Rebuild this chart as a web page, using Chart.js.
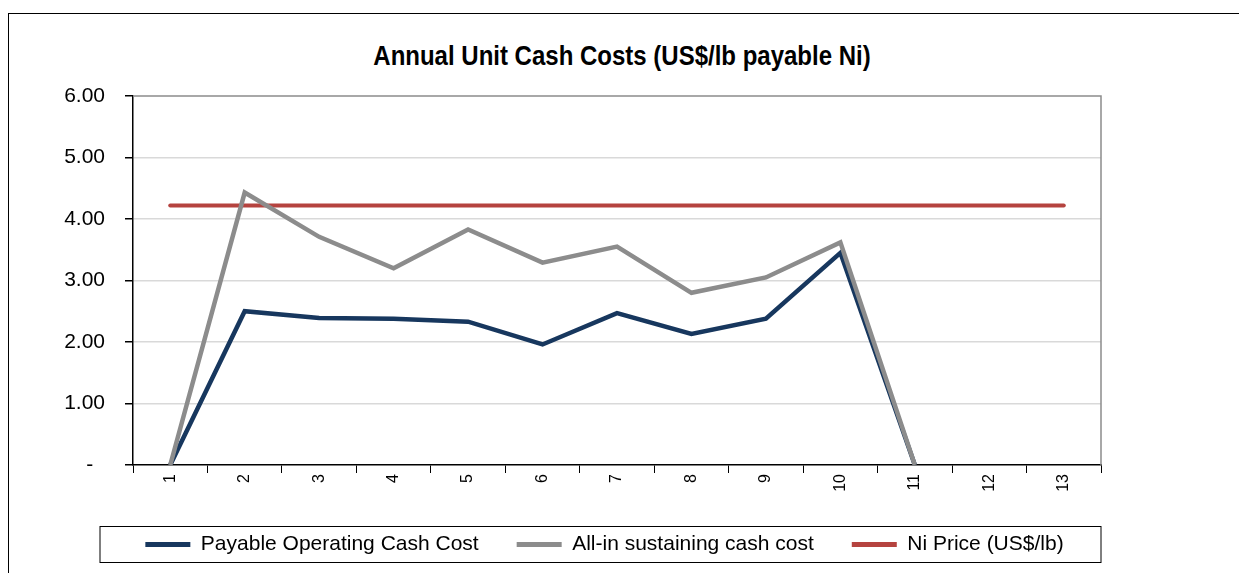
<!DOCTYPE html>
<html lang="en">
<head>
    <meta charset="UTF-8">
    <title>Annual Unit Cash Costs</title>
    <script src="https://cdn.jsdelivr.net/npm/chart.js"></script>
    <style>
        html, body {
            margin: 0;
            padding: 0;
            background: #fff;
            overflow: hidden;
        }
        #frame {
            position: absolute;
            left: 8px;
            top: 13px;
            width: 1300px;
            height: 700px;
            border: 1.5px solid #000;
        }
        #title {
            position: absolute;
            left: 0;
            width: 1244px;
            top: 42px;
            text-align: center;
            font-family: "Liberation Sans", Arial, sans-serif;
            font-weight: bold;
            font-size: 24px;
            color: #000;
            transform: scaleY(1.12);
        }
        #wrap {
            position: absolute;
            left: 0;
            top: 0;
            width: 1239px;
            height: 573px;
        }
    </style>
</head>
<body>
    <div id="frame"></div>
    <div id="title">Annual Unit Cash Costs (US$/lb payable Ni)</div>
    <div id="wrap"><canvas id="costChart"></canvas></div>

    <script>
        // Werte
        const years = ['1', '2', '3', '4', '5', '6', '7', '8', '9', '10', '11', '12', '13'];
        const operatingCost = [0, 2.50, 2.39, 2.38, 2.33, 1.96, 2.47, 2.13, 2.38, 3.45, 0, null, null];
        const aiscCost = [0, 4.43, 3.71, 3.20, 3.83, 3.29, 3.55, 2.80, 3.05, 3.62, 0, null, null];
        const niPrice = [4.22, 4.22, 4.22, 4.22, 4.22, 4.22, 4.22, 4.22, 4.22, 4.22, 4.22, 4.22, 4.22];
        const yTicks = [0, 1, 2, 3, 4, 5, 6];

        const font = "'Liberation Sans', Arial, sans-serif";

        // Rahmen oben/rechts im Plotbereich, Kasten um die Legende
        const framePlugin = {
            id: 'framePlugin',
            afterLayout(chart) {
                // Legende etwas nach rechts schieben (wie im Original)
                const lg = chart.legend;
                lg.left += 54;
                lg.right += 54;
            },
            beforeDatasetsDraw(chart) {
                const { ctx, chartArea: a } = chart;
                ctx.save();
                ctx.strokeStyle = '#8c8c8c';
                ctx.lineWidth = 1.5;
                ctx.beginPath();
                ctx.moveTo(a.left, a.top);
                ctx.lineTo(a.right, a.top);
                ctx.lineTo(a.right, a.bottom);
                ctx.stroke();
                ctx.restore();
            },
            afterDraw(chart) {
                const { ctx, chartArea: a, legend } = chart;
                const hb = legend.legendHitBoxes[0];
                if (!hb) return;
                const mid = hb.top + hb.height / 2;
                ctx.save();
                ctx.strokeStyle = '#000';
                ctx.lineWidth = 1;
                ctx.strokeRect(a.left - 33, mid - 18, a.right - a.left + 33, 36);
                ctx.restore();
            }
        };

        const ctx = document.getElementById('costChart').getContext('2d');
        new Chart(ctx, {
            type: 'line',
            data: {
                labels: years,
                datasets: [{
                    label: 'Payable Operating Cash Cost',
                    data: operatingCost,
                    borderColor: '#17375E',
                    backgroundColor: '#17375E',
                    borderWidth: 4.5,
                    order: 2
                }, {
                    label: 'All-in sustaining cash cost',
                    data: aiscCost,
                    borderColor: '#8C8C8C',
                    backgroundColor: '#8C8C8C',
                    borderWidth: 4.5,
                    order: 1
                }, {
                    label: 'Ni Price (US$/lb)',
                    data: niPrice,
                    borderColor: '#B5433F',
                    backgroundColor: '#B5433F',
                    borderWidth: 4,
                    borderCapStyle: 'round',
                    order: 3
                }]
            },
            options: {
                responsive: true,
                maintainAspectRatio: false,
                animation: false,
                elements: {
                    point: { radius: 0, hoverRadius: 0 },
                    line: { tension: 0 }
                },
                layout: {
                    padding: { left: 0, right: 138, top: 96, bottom: 8 }
                },
                plugins: {
                    title: { display: false },
                    tooltip: { enabled: false },
                    legend: {
                        position: 'bottom',
                        labels: {
                            font: { family: font, size: 21 },
                            color: '#000',
                            boxWidth: 45,
                            boxHeight: 5,
                            padding: 38,
                            sort: (a, b) => a.datasetIndex - b.datasetIndex,
                            generateLabels(chart) {
                                const items = Chart.defaults.plugins.legend.labels.generateLabels(chart);
                                items.forEach(it => { it.lineWidth = 0; it.fillStyle = it.strokeStyle; });
                                return items;
                            }
                        }
                    }
                },
                scales: {
                    x: {
                        offset: true,
                        grid: {
                            offset: true,
                            drawOnChartArea: false,
                            color: '#000',
                            tickLength: 8
                        },
                        border: { color: '#000', width: 1.5 },
                        ticks: {
                            color: '#000',
                            font: { family: font, size: 16 },
                            minRotation: 90,
                            maxRotation: 90,
                            padding: 1
                        },
                        afterFit(scale) { scale.height = 31; }
                    },
                    y: {
                        min: 0,
                        max: 6,
                        afterBuildTicks(scale) { scale.ticks = yTicks.map(v => ({ value: v })); },
                        grid: {
                            color: (c) => (c.tick && (c.tick.value === 0 || c.tick.value === 6)) ? 'rgba(0,0,0,0)' : '#d9d9d9',
                            lineWidth: 1.5,
                            tickColor: '#000',
                            tickLength: 8
                        },
                        border: { color: '#000', width: 1.5 },
                        ticks: {
                            color: '#000',
                            font: { family: font, size: 21 },
                            padding: 20,
                            callback: (v) => v === 0 ? '-  ' : v.toFixed(2)
                        },
                        afterFit(scale) { scale.width = 133; }
                    }
                }
            },
            plugins: [framePlugin]
        });
    </script>
</body>
</html>
